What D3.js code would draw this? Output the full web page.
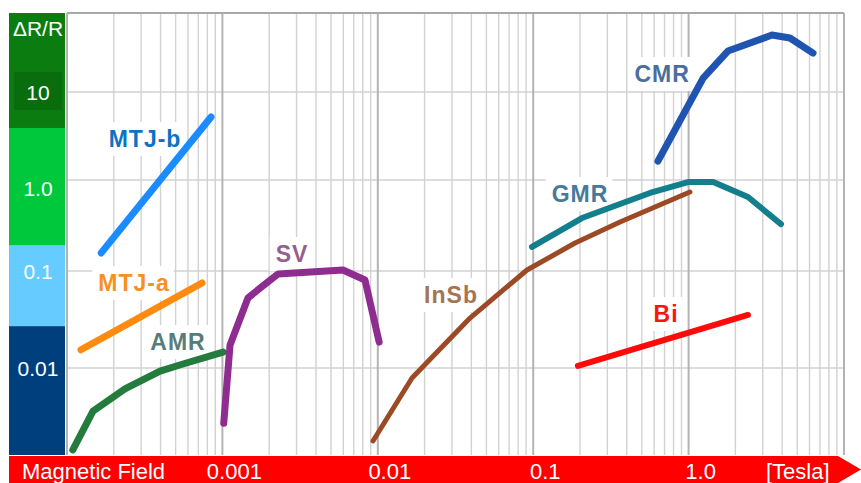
<!DOCTYPE html>
<html>
<head>
<meta charset="utf-8">
<script src="https://cdn.jsdelivr.net/npm/d3@7"></script>
<style>
  body { margin: 0; background: #fff; }
  svg { display: block; font-family: 'Liberation Sans', Arial, sans-serif; }
</style>
</head>
<body>
<div id="chart"></div>
<script>
// x: magnetic field [Tesla], y: ΔR/R
const decades = [0.0001, 0.001, 0.01, 0.1, 1];
const xTicks = [0.001, 0.01, 0.1, 1];
const xTickLabels = ['0.001', '0.01', '0.1', '1.0'];
const yTicks = [0.01, 0.1, 1, 10];
const yTickLabels = ['0.01', '0.1', '1.0', '10'];
const yLabelAt = [0.01, 0.1, 0.8, 10];

// colour bands of the left axis, edges in ΔR/R
const bandEdges = [3.9, 0.19, 0.027];

const names = ['MTJ-b', 'MTJ-a', 'AMR', 'SV', 'InSb', 'GMR', 'CMR', 'Bi'];

const mtjbField = [0.000166, 0.000845];
const mtjbRatio = [0.158, 5.2];
const mtjaField = [0.000123, 0.000739];
const mtjaRatio = [0.0154, 0.0752];
const amrField = [0.000109, 0.000147, 0.000236, 0.000397, 0.000558, 0.00101];
const amrRatio = [0.00143, 0.0036, 0.0061, 0.0093, 0.011, 0.0146];
const svField = [0.00102, 0.00112, 0.00146, 0.00175, 0.00228, 0.00597, 0.00827, 0.0102];
const svRatio = [0.0027, 0.0173, 0.0527, 0.0668, 0.093, 0.1025, 0.0808, 0.0185];
const insbField = [0.00931, 0.0166, 0.0392, 0.0912, 0.186, 0.362, 1.02];
const insbRatio = [0.00177, 0.00789, 0.0327, 0.1025, 0.203, 0.345, 0.738];
const gmrField = [0.0983, 0.206, 0.564, 0.991, 1.44, 2.41, 3.93];
const gmrRatio = [0.184, 0.382, 0.72, 0.95, 0.95, 0.65, 0.328];
const cmrField = [0.635, 1.24, 1.79, 3.44, 4.49, 6.32];
const cmrRatio = [1.64, 14.4, 29.2, 44.4, 41.1, 27.7];
const biField = [0.194, 2.41];
const biRatio = [0.0105, 0.0352];

// where each name is written (field, ΔR/R)
const labelField = [0.000318, 0.00027, 0.000518, 0.00281, 0.0296, 0.2, 0.675, 0.716];
const labelRatio = [2.37, 0.0622, 0.0153, 0.1256, 0.0468, 0.573, 13.0, 0.0298];

const fields = [mtjbField, mtjaField, amrField, svField, insbField, gmrField, cmrField, biField];
const ratios = [mtjbRatio, mtjaRatio, amrRatio, svRatio, insbRatio, gmrRatio, cmrRatio, biRatio];

const lineColors = ['#1a8cff', '#ff8a10', '#237b3e', '#8e2c8f', '#9c4a25', '#147f8c', '#1f55b0', '#ff0a0a'];
const lineWidths = [7, 7, 7, 7, 5, 6, 7, 6];
const labelColors = ['#0b72c4', '#f7901e', '#587c7a', '#93608f', '#a57452', '#46799a', '#4c6e9f', '#ff1212'];
const bandColors = ['#0b7d10', '#00c83c', '#66ccff', '#003f7d'];

const W = 861;
const H = 483;
const plot = { left: 67, right: 844, top: 13, bottom: 455 };

const scale = {
  x: d3.scaleLog()
    .domain([0.0001, 10])
    .range([plot.left, plot.right]),
  y: d3.scaleLog()
    .domain([0.01, 0.1, 1, 10])
    .range([368, 271, 180, 92])
};

const svg = d3.select('#chart').append('svg')
    .attr('width', W)
    .attr('height', H);

// left colour bands
const edges = [plot.top, ...bandEdges.map(scale.y), plot.bottom];
svg.append('g').selectAll('rect')
  .data(bandColors)
  .enter()
  .append('rect')
  .attr('x', 9)
  .attr('width', 56)
  .attr('y', (d, i) => edges[i])
  .attr('height', (d, i) => edges[i + 1] - edges[i])
  .attr('fill', (d) => d);

// darker box round the "10"
svg.append('rect')
  .attr('x', 14)
  .attr('width', 48)
  .attr('y', scale.y(10) - 20)
  .attr('height', 38)
  .attr('fill', '#096d0d');

svg.append('text')
  .attr('x', 38)
  .attr('y', 36)
  .attr('text-anchor', 'middle')
  .attr('fill', '#fff')
  .attr('font-size', 21)
  .text('ΔR/R');

svg.append('g').selectAll('text')
  .data(yTickLabels)
  .enter()
  .append('text')
  .attr('x', 38)
  .attr('y', (d, i) => scale.y(yLabelAt[i]) + 7.5)
  .attr('text-anchor', 'middle')
  .attr('fill', '#fff')
  .attr('font-size', 21)
  .text((d) => d);

// grid
const grid = svg.append('g');
const minor = d3.merge(decades.map((d) => d3.range(2, 10).map((k) => d * k)));

grid.selectAll('.minor')
  .data(minor)
  .enter()
  .append('line')
  .attr('class', 'minor')
  .attr('stroke', '#d2d2d2')
  .attr('stroke-width', 1.4)
  .attr('x1', (d) => scale.x(d))
  .attr('x2', (d) => scale.x(d))
  .attr('y1', plot.top)
  .attr('y2', plot.bottom);

grid.selectAll('.hline')
  .data(yTicks)
  .enter()
  .append('line')
  .attr('class', 'hline')
  .attr('stroke', '#d2d2d2')
  .attr('stroke-width', 1.6)
  .attr('x1', plot.left)
  .attr('x2', plot.right)
  .attr('y1', (d) => scale.y(d))
  .attr('y2', (d) => scale.y(d));

grid.selectAll('.major')
  .data(decades.concat([10]))
  .enter()
  .append('line')
  .attr('class', 'major')
  .attr('stroke', '#b4b4b4')
  .attr('stroke-width', 2)
  .attr('x1', (d) => scale.x(d))
  .attr('x2', (d) => scale.x(d))
  .attr('y1', plot.top)
  .attr('y2', plot.bottom);

grid.append('line')
  .attr('stroke', '#a8a8a8')
  .attr('stroke-width', 2)
  .attr('x1', plot.left)
  .attr('x2', plot.right)
  .attr('y1', plot.top)
  .attr('y2', plot.top);

// name labels with white boxes
const labels = svg.append('g');
names.forEach((name, i) => {
  const g = labels.append('g');
  const t = g.append('text')
    .attr('x', scale.x(labelField[i]))
    .attr('y', scale.y(labelRatio[i]))
    .attr('text-anchor', 'middle')
    .attr('font-size', 23)
    .attr('font-weight', 'bold')
    .attr('letter-spacing', 1)
    .attr('fill', labelColors[i])
    .text(name);
  const b = t.node().getBBox();
  g.insert('rect', 'text')
    .attr('x', b.x - 6)
    .attr('y', b.y - 4)
    .attr('width', b.width + 10)
    .attr('height', b.height + 8)
    .attr('fill', '#fff');
});

// curves
const line = d3.line()
  .x((d) => scale.x(d[0]))
  .y((d) => scale.y(d[1]));

svg.append('g').selectAll('path')
  .data(names)
  .enter()
  .append('path')
  .attr('fill', 'none')
  .attr('stroke', (d, i) => lineColors[i])
  .attr('stroke-width', (d, i) => lineWidths[i])
  .attr('stroke-linecap', 'round')
  .attr('stroke-linejoin', 'round')
  .attr('d', (d, i) => line(d3.zip(fields[i], ratios[i])));

// red field arrow at the bottom
const axis = svg.append('g');
axis.append('path')
  .attr('fill', '#ff0000')
  .attr('d', `M9,456 H838 L861,469.5 L838,483 H9 Z`);

axis.append('text')
  .attr('x', 22)
  .attr('y', 479)
  .attr('fill', '#fff')
  .attr('font-size', 22)
  .text('Magnetic Field');

axis.selectAll('.tick')
  .data(xTicks)
  .enter()
  .append('text')
  .attr('class', 'tick')
  .attr('x', (d) => scale.x(d) + 12)
  .attr('y', 479)
  .attr('text-anchor', 'middle')
  .attr('fill', '#fff')
  .attr('font-size', 22)
  .text((d, i) => xTickLabels[i]);

axis.append('text')
  .attr('x', 766)
  .attr('y', 479)
  .attr('fill', '#fff')
  .attr('font-size', 22)
  .text('[Tesla]');
</script>
</body>
</html>
